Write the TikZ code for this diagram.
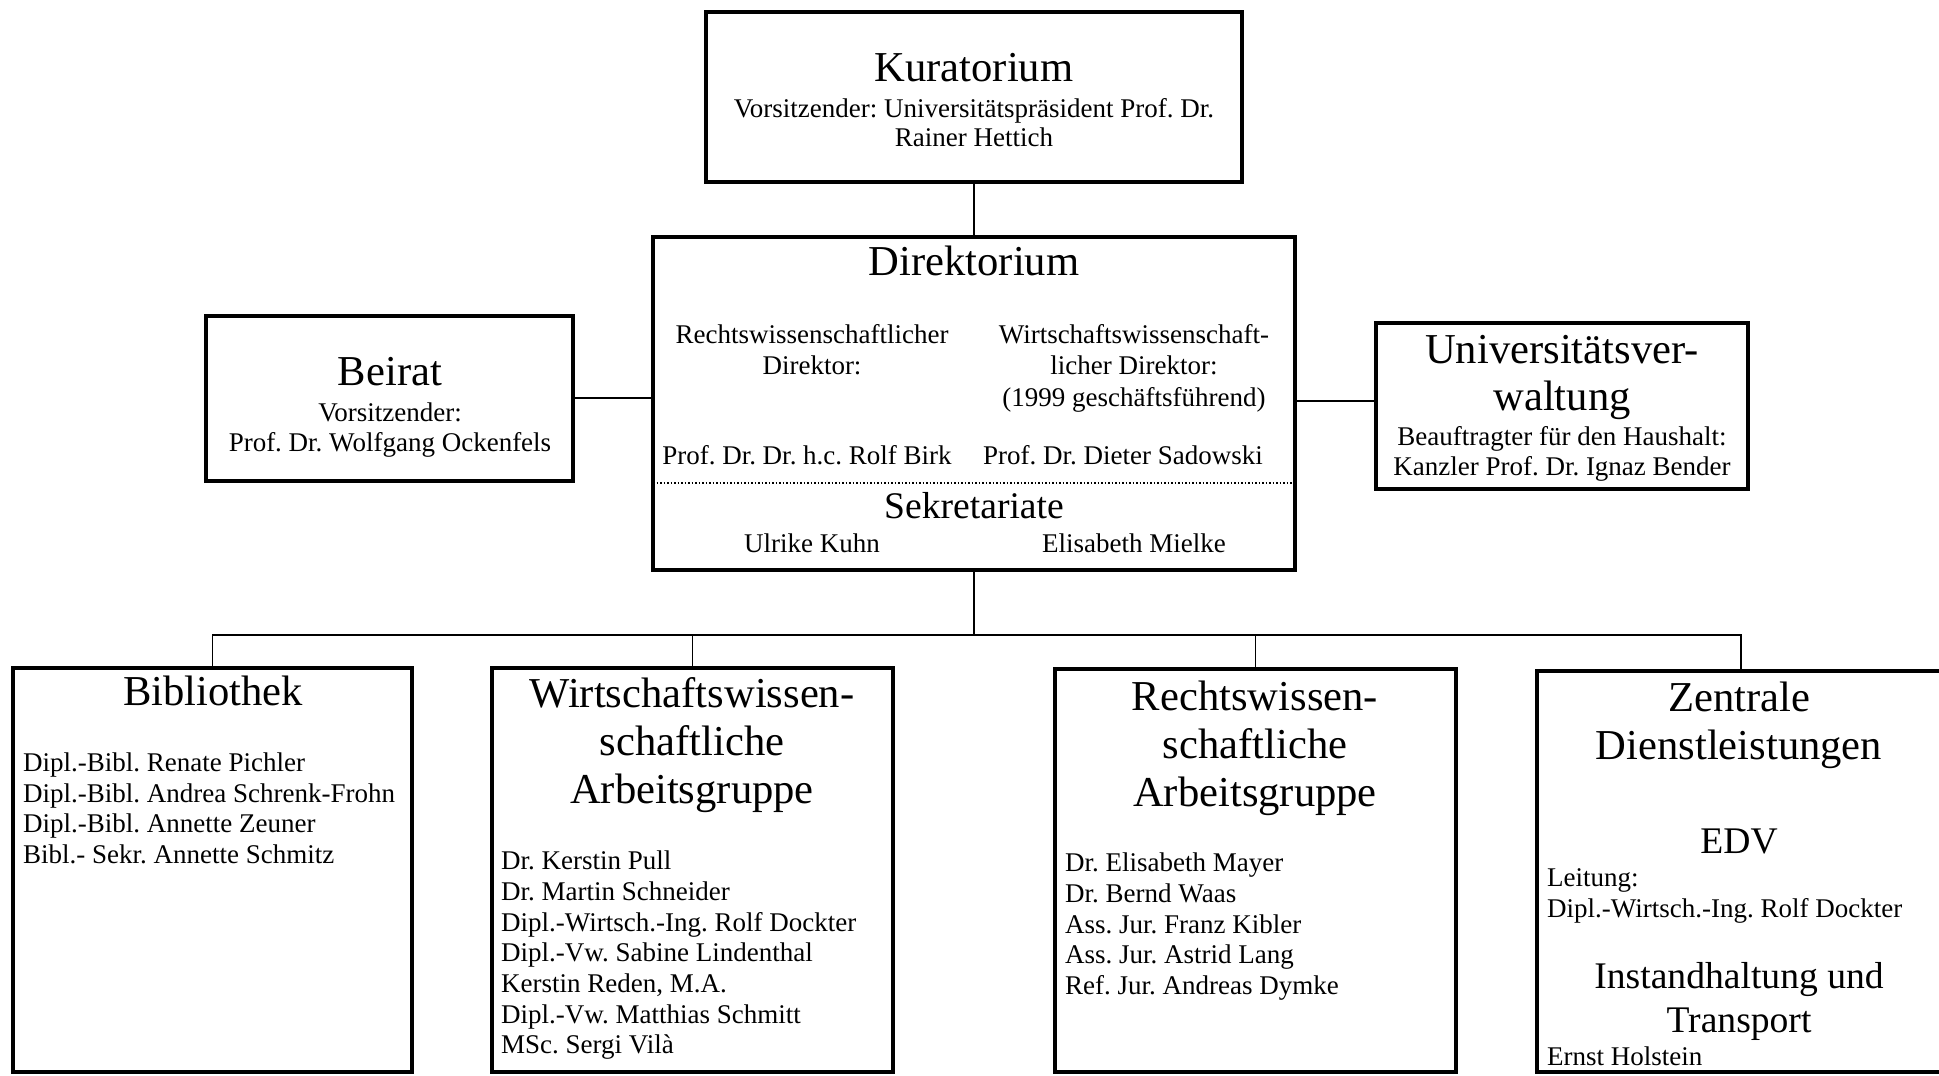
\documentclass[tikz,border=0pt]{standalone}
\usepackage{fontspec}
\setmainfont{Liberation Serif}
\frenchspacing
\newcommand\xtitle{\fontsize{42.6}{48}\selectfont}
\newcommand\xsub{\fontsize{37.6}{44}\selectfont}
\newcommand\xbody{\fontsize{27}{30.5}\selectfont}
\begin{document}
\begin{tikzpicture}[x=1pt,y=-1pt,
  box/.style={draw, line width=4.5pt, inner sep=0pt, outer sep=0pt, anchor=north west},
  conn/.style={draw, line width=1.8pt},
  ttl/.style={inner sep=0pt, font=\xtitle, anchor=base},
  sub/.style={inner sep=0pt, font=\xsub, anchor=base},
  txt/.style={inner sep=0pt, font=\xbody, anchor=base},
  lst/.style={inner sep=0pt, font=\xbody, anchor=base west}]
\useasboundingbox (0,0) rectangle (1939,1076);
\fill[white] (0,0) rectangle (1939,1076);

% boxes
\node[box, minimum width=536pt, minimum height=170pt] (kur) at (706,12) {};
\node[box, minimum width=642pt, minimum height=333pt] (dir) at (653,237) {};
\node[box, minimum width=367pt, minimum height=165pt] (bei) at (206,316) {};
\node[box, minimum width=372pt, minimum height=166pt] (uni) at (1376,323) {};
\node[box, minimum width=399pt, minimum height=404pt] (bib) at (13,668) {};
\node[box, minimum width=401pt, minimum height=404pt] (wir) at (492,668) {};
\node[box, minimum width=401pt, minimum height=403pt] (rec) at (1055,669) {};
\node[box, minimum width=408pt, minimum height=401pt] (zen) at (1537,671) {};

% connectors
\coordinate (bus) at (974,635);
\coordinate (sep) at (974,483);
\coordinate (lft) at (600,398);
\coordinate (rgt) at (1330,401);
\draw[conn] (kur.south) -- (dir.north);
\draw[conn] (bei.east |- lft) -- (dir.west |- lft);
\draw[conn] (dir.east |- rgt) -- (uni.west |- rgt);
\draw[conn] (dir.south) -- (bus);
\draw[conn] (bib.north) -- (bib.north |- bus) -- (zen.north |- bus) -- (zen.north);
\draw[conn] (wir.north |- bus) -- (wir.north);
\draw[conn] (rec.north |- bus) -- (rec.north);
\draw[line width=1.5pt, dotted] (dir.west |- sep) -- (dir.east |- sep);

% Kuratorium
\node[ttl] (kurT) at (974,81) {Kuratorium};
\node[txt] (kurA) at (974,117.5) {Vorsitzender: Universitätspräsident Prof. Dr.};
\node[txt] (kurB) at (974,146.5) {Rainer Hettich};

% Direktorium
\node[ttl] (dirT) at (974,275) {Direktorium};
\node[txt] (dirL1) at (812,343.5) {Rechtswissenschaftlicher};
\node[txt] (dirL2) at (812,374.5) {Direktor:};
\node[txt] (dirR1) at (1134,343.5) {Wirtschaftswissenschaft-};
\node[txt] (dirR2) at (1134,374.5) {licher Direktor:};
\node[txt] (dirR3) at (1134,406.5) {(1999 geschäftsführend)};
\node[txt] (dirL4) at (807,464.5) {Prof. Dr. Dr. h.c. Rolf Birk};
\node[txt] (dirR4) at (1123,464.5) {Prof. Dr. Dieter Sadowski};
\node[sub] (sek) at (974,518) {Sekretariate};
\node[txt] (sekL) at (812,552.5) {Ulrike Kuhn};
\node[txt] (sekR) at (1134,552.5) {Elisabeth Mielke};

% Beirat
\node[ttl] (beiT) at (390,385) {Beirat};
\node[txt] (beiA) at (390,421.5) {Vorsitzender:};
\node[txt] (beiB) at (390,451.5) {Prof. Dr. Wolfgang Ockenfels};

% Universitaetsverwaltung
\node[ttl] (uniT1) at (1562,363) {Universitätsver-};
\node[ttl] (uniT2) at (1562,410) {waltung};
\node[txt] (uniA) at (1562,445.5) {Beauftragter für den Haushalt:};
\node[txt] (uniB) at (1562,475.5) {Kanzler Prof. Dr. Ignaz Bender};

% Bibliothek
\node[ttl] (bibT) at (213,705) {Bibliothek};
\node[lst] (bib1) at (23,771.5) {Dipl.-Bibl. Renate Pichler};
\node[lst] (bib2) at (23,802) {Dipl.-Bibl. Andrea Schrenk-Frohn};
\node[lst] (bib3) at (23,832.5) {Dipl.-Bibl. Annette Zeuner};
\node[lst] (bib4) at (23,863) {Bibl.- Sekr. Annette Schmitz};

% Wirtschaftswissenschaftliche Arbeitsgruppe
\node[ttl] (wirT1) at (692,707) {Wirtschaftswissen-};
\node[ttl] (wirT2) at (692,755) {schaftliche};
\node[ttl] (wirT3) at (692,803) {Arbeitsgruppe};
\node[lst] (wir1) at (501,869.5) {Dr. Kerstin Pull};
\node[lst] (wir2) at (501,900) {Dr. Martin Schneider};
\node[lst] (wir3) at (501,931) {Dipl.-Wirtsch.-Ing. Rolf Dockter};
\node[lst] (wir4) at (501,961.5) {Dipl.-Vw. Sabine Lindenthal};
\node[lst] (wir5) at (501,992) {Kerstin Reden, M.A.};
\node[lst] (wir6) at (501,1023) {Dipl.-Vw. Matthias Schmitt};
\node[lst] (wir7) at (501,1053.5) {MSc. Sergi Vilà};

% Rechtswissenschaftliche Arbeitsgruppe
\node[ttl] (recT1) at (1255,710) {Rechtswissen-};
\node[ttl] (recT2) at (1255,758) {schaftliche};
\node[ttl] (recT3) at (1255,806) {Arbeitsgruppe};
\node[lst] (rec1) at (1065,871.5) {Dr. Elisabeth Mayer};
\node[lst] (rec2) at (1065,902) {Dr. Bernd Waas};
\node[lst] (rec3) at (1065,933) {Ass. Jur. Franz Kibler};
\node[lst] (rec4) at (1065,963.5) {Ass. Jur. Astrid Lang};
\node[lst] (rec5) at (1065,994.5) {Ref. Jur. Andreas Dymke};

% Zentrale Dienstleistungen
\node[ttl] (zenT1) at (1739,711) {Zentrale};
\node[ttl] (zenT2) at (1739,759) {Dienstleistungen};
\node[sub] (edv) at (1739,853) {EDV};
\node[lst] (edv1) at (1547,886.5) {Leitung:};
\node[lst] (edv2) at (1547,917.5) {Dipl.-Wirtsch.-Ing. Rolf Dockter};
\node[sub] (ins1) at (1739,988) {Instandhaltung und};
\node[sub] (ins2) at (1739,1032) {Transport};
\node[lst] (ins3) at (1547,1065.5) {Ernst Holstein};
\end{tikzpicture}
\end{document}
